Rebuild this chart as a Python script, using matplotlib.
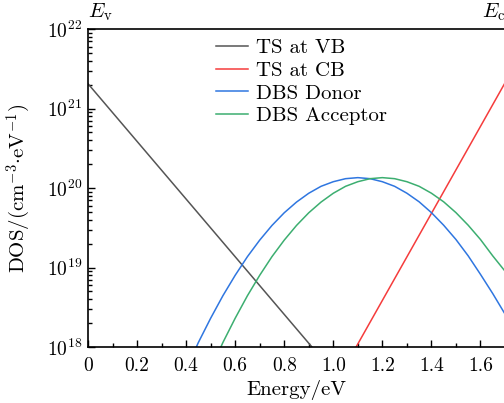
import matplotlib
matplotlib.use('Agg')
import matplotlib.pyplot as plt
from matplotlib.ticker import MultipleLocator, LogLocator

plt.rcParams['font.family'] = 'serif'
plt.rcParams['font.serif'] = ['cmr10', 'DejaVu Serif']
plt.rcParams['mathtext.fontset'] = 'cm'
plt.rcParams['axes.formatter.use_mathtext'] = True

# tail states (straight lines on log scale)
vb_e = [0.0, 0.913]
vb_dos = [2.05e21, 1.0e18]
cb_e = [1.093, 1.70]
cb_dos = [1.0e18, 2.1e21]

# deep bulk states
donor_e = [0.40, 0.45, 0.50, 0.55, 0.60, 0.65, 0.70, 0.75, 0.80, 0.85, 0.90, 0.95,
           1.00, 1.05, 1.10, 1.15, 1.20, 1.25, 1.30, 1.35, 1.40, 1.45, 1.50, 1.55,
           1.60, 1.65, 1.70]
donor_dos = [5.2e17, 1.14e18, 2.3e18, 4.42e18, 7.98e18, 1.37e19, 2.21e19, 3.38e19,
             4.88e19, 6.65e19, 8.59e19, 1.05e20, 1.20e20, 1.31e20, 1.35e20, 1.31e20,
             1.20e20, 1.05e20, 8.6e19, 6.7e19, 4.9e19, 3.4e19, 2.25e19, 1.4e19,
             8.2e18, 4.7e18, 2.6e18]
acc_e = [0.50, 0.55, 0.60, 0.65, 0.70, 0.75, 0.80, 0.85, 0.90, 0.95, 1.00, 1.05,
         1.10, 1.15, 1.20, 1.25, 1.30, 1.35, 1.40, 1.45, 1.50, 1.55, 1.60, 1.65, 1.70]
acc_dos = [5.2e17, 1.14e18, 2.3e18, 4.42e18, 7.98e18, 1.37e19, 2.21e19, 3.38e19,
           4.88e19, 6.65e19, 8.59e19, 1.05e20, 1.20e20, 1.31e20, 1.35e20, 1.31e20,
           1.20e20, 1.05e20, 8.6e19, 6.7e19, 4.9e19, 3.4e19, 2.25e19, 1.4e19, 9.0e18]

fig = plt.figure(figsize=(5.04, 4.03), dpi=100)
ax = fig.add_axes([88/504, 1-347/403, 417/504, 318/403])

ax.plot(vb_e, vb_dos, color='#555555', lw=1.1, label='TS at VB')
ax.plot(cb_e, cb_dos, color='#f53c3c', lw=1.1, label='TS at CB')
ax.plot(donor_e, donor_dos, color='#2f76e0', lw=1.1, label='DBS Donor')
ax.plot(acc_e, acc_dos, color='#3cae70', lw=1.1, label='DBS Acceptor')

ax.set_yscale('log')
ax.set_xlim(0, 1.7)
ax.set_ylim(1e18, 1e22)
ax.yaxis.set_major_locator(LogLocator(base=10))
ax.yaxis.set_minor_locator(LogLocator(base=10, subs=range(2, 10)))
ax.xaxis.set_minor_locator(MultipleLocator(0.1))
ax.set_xticks([0, 0.2, 0.4, 0.6, 0.8, 1.0, 1.2, 1.4, 1.6])
ax.set_xticklabels(['0', '0.2', '0.4', '0.6', '0.8', '1.0', '1.2', '1.4', '1.6'])

ax.tick_params(which='both', direction='in', top=False, right=False, labelsize=14, width=1)
ax.tick_params(which='major', length=5)
ax.tick_params(which='minor', length=3)
ax.tick_params(axis='x', pad=7)
ax.tick_params(axis='y', pad=4)
for s in ax.spines.values():
    s.set_linewidth(1.2)

ax.set_xlabel('Energy/eV', fontsize=15, labelpad=4)
ax.set_ylabel(r'DOS/(cm$^{-3}$$\cdot$eV$^{-1}$)', fontsize=15, labelpad=10)

ax.text(0.0, 1.02, r'$E_\mathrm{v}$', transform=ax.transAxes, ha='left', va='bottom', fontsize=15)
ax.text(1.0, 1.02, r'$E_\mathrm{c}$', transform=ax.transAxes, ha='right', va='bottom', fontsize=15)

ax.legend(loc='upper left', bbox_to_anchor=(0.308, 0.97), frameon=False, fontsize=15,
          handlelength=1.5, handletextpad=0.4, labelspacing=0.2, borderpad=0, borderaxespad=0)

fig.savefig('out.png', dpi=100)
